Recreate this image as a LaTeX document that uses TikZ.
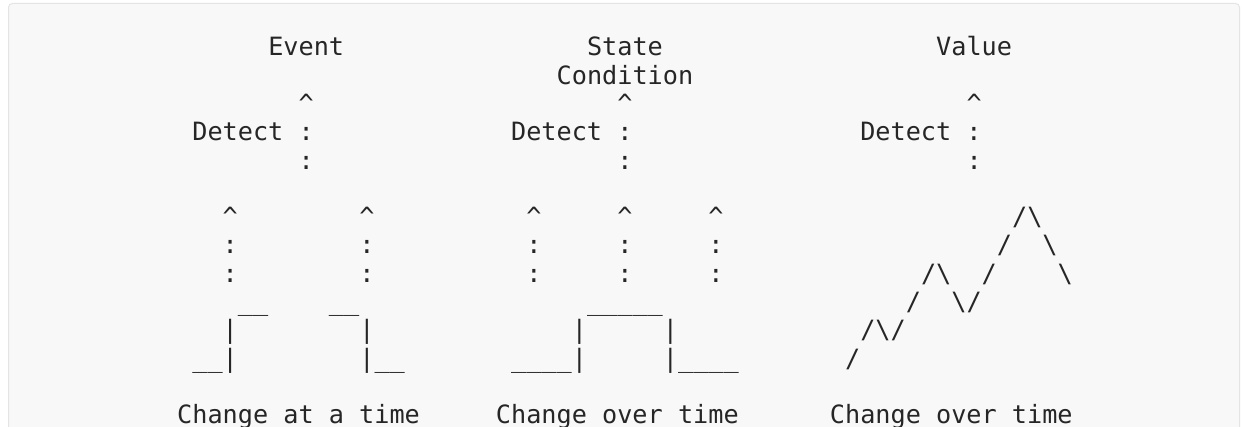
\documentclass[tikz,border=0pt]{standalone}
\usepackage{fontspec}
\usepackage{xcolor}
\usepackage{tikz}
\newfontfamily\asciifont{DejaVu Sans Mono}
\definecolor{asciiink}{HTML}{262626}
\definecolor{codebg}{HTML}{F8F8F8}
\definecolor{codeframe}{HTML}{E4E4E4}
\tikzstyle{ascii}=[font=\asciifont\fontsize{25.2pt}{28.3pt}\selectfont,text=asciiink,inner sep=0pt,anchor=base west]
\tikzstyle{codebox}=[fill=codebg,draw=codeframe,line width=1pt,rounded corners=4pt]
\newcommand{\up}{\textasciicircum}
\newcommand{\bs}{\textbackslash}

\begin{document}
\begin{tikzpicture}
	\useasboundingbox (0,0) rectangle (1242pt,-427pt);
	\clip (0,0) rectangle (1242pt,-427pt);
	\fill[white] (0,0) rectangle (1242pt,-427pt);
	\path[codebox] (8.5pt,-3.5pt) rectangle (1239.5pt,-460pt);
	\begin{scope}[shift={(306pt,-55.9pt)},x=15.18pt,y=-28.3pt]
	% headings
	\node (evt) [ascii] at (-2.5,0) {Event};
	\node (st) [ascii] at (18.5,0) {State};
	\node (cond) [ascii] at (16.5,1) {Condition};
	\node (val) [ascii] at (41.5,0) {Value};
	% detect
	\node (evtup) [ascii] at (-0.5,2) {\up};
	\node (stup) [ascii] at (20.5,2) {\up};
	\node (valup) [ascii] at (43.5,2) {\up};
	\node (evtdet) [ascii] at (-7.5,3) {Detect :};
	\node (stdet) [ascii] at (13.5,3) {Detect :};
	\node (valdet) [ascii] at (36.5,3) {Detect :};
	\node (evtdot) [ascii] at (-0.5,4) {:};
	\node (stdot) [ascii] at (20.5,4) {:};
	\node (valdot) [ascii] at (43.5,4) {:};
	% event
	\node (evta1) [ascii] at (-5.5,6) {\up};
	\node (evta2) [ascii] at (-5.5,7) {:};
	\node (evta3) [ascii] at (-5.5,8) {:};
	\node (evtb1) [ascii] at (3.5,6) {\up};
	\node (evtb2) [ascii] at (3.5,7) {:};
	\node (evtb3) [ascii] at (3.5,8) {:};
	\node (evthi1) [ascii] at (-4.5,9) {\_\_};
	\node (evthi2) [ascii] at (1.5,9) {\_\_};
	\node (evtedge1) [ascii] at (-5.5,10) {|};
	\node (evtedge2) [ascii] at (3.5,10) {|};
	\node (evtlo1) [ascii] at (-7.5,11) {\_\_|};
	\node (evtlo2) [ascii] at (3.5,11) {|\_\_};
	% state
	\node (sta1) [ascii] at (14.5,6) {\up};
	\node (sta2) [ascii] at (14.5,7) {:};
	\node (sta3) [ascii] at (14.5,8) {:};
	\node (stb1) [ascii] at (20.5,6) {\up};
	\node (stb2) [ascii] at (20.5,7) {:};
	\node (stb3) [ascii] at (20.5,8) {:};
	\node (stc1) [ascii] at (26.5,6) {\up};
	\node (stc2) [ascii] at (26.5,7) {:};
	\node (stc3) [ascii] at (26.5,8) {:};
	\node (sthi) [ascii] at (18.5,9) {\_\_\_\_\_};
	\node (stedge1) [ascii] at (17.5,10) {|};
	\node (stedge2) [ascii] at (23.5,10) {|};
	\node (stlo1) [ascii] at (13.5,11) {\_\_\_\_|};
	\node (stlo2) [ascii] at (23.5,11) {|\_\_\_\_};
	% value
	\node (val6) [ascii] at (46.5,6) {/\bs};
	\node (val7a) [ascii] at (45.5,7) {/};
	\node (val7b) [ascii] at (48.5,7) {\bs};
	\node (val8a) [ascii] at (40.5,8) {/\bs};
	\node (val8b) [ascii] at (44.5,8) {/};
	\node (val8c) [ascii] at (49.5,8) {\bs};
	\node (val9a) [ascii] at (39.5,9) {/};
	\node (val9b) [ascii] at (42.5,9) {\bs/};
	\node (val10) [ascii] at (36.5,10) {/\bs/};
	\node (val11) [ascii] at (35.5,11) {/};
	% captions
	\node (evtcap) [ascii] at (-8.5,13) {Change at a time};
	\node (stcap) [ascii] at (12.5,13) {Change over time};
	\node (valcap) [ascii] at (34.5,13) {Change over time};
	\end{scope}
\end{tikzpicture}
\end{document}
